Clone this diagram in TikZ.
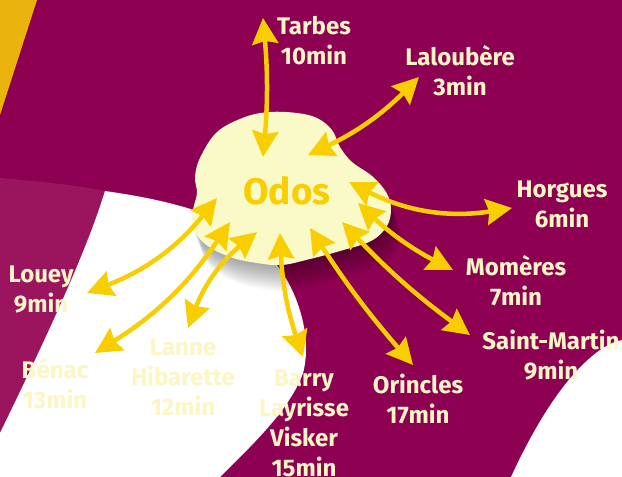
\documentclass[tikz,border=0pt]{standalone}
\usepackage{fontspec}
\setmainfont{Fira Sans}
\usetikzlibrary{arrows.meta}

\definecolor{plum}{HTML}{8E0052}
\definecolor{plumlight}{HTML}{9A155E}
\definecolor{mustard}{HTML}{EAB40C}
\definecolor{blobcream}{HTML}{FAF9C8}
\definecolor{arrowgold}{HTML}{F9CE00}
\definecolor{towncream}{HTML}{FBF6C4}

\begin{document}
\begin{tikzpicture}[x=1pt,y=-1pt,
  town/.style={font=\bfseries\fontsize{24}{30}\selectfont, text=towncream, align=center, inner sep=0pt},
  link/.style={arrowgold, line width=4.5pt,
    {Stealth[length=26pt,width=26pt,inset=3pt]}-{Stealth[length=26pt,width=26pt,inset=3pt]}},
  odosblob/.pic={\fill[pic actions] plot[smooth cycle,tension=0.6] coordinates {
    (297,113) (317,118) (332,130) (340,147) (352,162) (372,176) (386,192) (391,208)
    (387,226) (371,241) (340,251) (310,259) (282,265) (257,263) (230,257) (205,244)
    (193,227) (193,210) (197,193) (195,177) (200,158) (217,132) (245,117) (270,112)};}
]
\useasboundingbox (0,0) rectangle (622,477);

% background
\fill[plum] (0,0) rectangle (622,477);
\fill[mustard] (0,0) -- (37,0) -- (0,115) -- cycle;
\fill[plumlight] (0,178) .. controls (40,181) and (80,186) .. (105,191)
  .. controls (90,240) and (60,310) .. (0,433) -- cycle;
\fill[white] (105,191) .. controls (140,196) and (170,202) .. (200,212) -- (270,255)
  -- (277,265) .. controls (300,295) and (312,340) .. (303,373)
  .. controls (290,410) and (250,447) .. (220,477) -- (0,477) -- (0,433)
  .. controls (60,310) and (90,240) .. (105,191) -- cycle;
\fill[white] (511,477) .. controls (535,425) and (565,375) .. (600,350)
  .. controls (608,345) and (615,341) .. (622,340) -- (622,477) -- cycle;

% blob with soft shadow
\foreach \k in {1,...,12}
  \pic[fill=black, opacity=0.03] at (0.8*\k,2.2*\k) {odosblob};
\pic[fill=blobcream] at (0,0) {odosblob};
\node (odos) at (287,191) {\bfseries\fontsize{37}{40}\selectfont\color{arrowgold}Odos};

% towns
\node[town] (tarbes) at (314,41) {Tarbes\\10min};
\node[town] (laloubere) at (460,71) {Laloubère\\3min};
\node[town] (horgues) at (562,204) {Horgues\\6min};
\node[town] (flomeres) at (516,281) {Momères\\7min};
\node[town] (stmartin) at (551,355) {Saint-Martin\\9min};
\node[town] (orincles) at (418,399) {Orincles\\17min};
\node[town] (barry) at (304,423) {Barry\\Layrisse\\Visker\\15min};
\node[town] (lanne) at (183,377) {Lanne\\Hibarette\\12min};
\node[town] (benac) at (55,384) {Bénac\\13min};
\node[town] (louey) at (41,290) {Louey\\9min};

% arrow ends
\coordinate (tarbesIn) at (263,157);     \coordinate (tarbesOut) at (263,18);
\coordinate (laloubereIn) at (308,155);  \coordinate (laloubereOut) at (419,77);
\coordinate (horguesIn) at (349,182);    \coordinate (horguesOut) at (512,208);
\coordinate (flomeresIn) at (358,203);   \coordinate (flomeresOut) at (453,270);
\coordinate (stmartinIn) at (342,222);   \coordinate (stmartinOut) at (470,335);
\coordinate (orinclesIn) at (310,228);   \coordinate (orinclesOut) at (413,365);
\coordinate (barryIn) at (280,233);      \coordinate (barryOut) at (303,357);
\coordinate (lanneIn) at (257,232);      \coordinate (lanneOut) at (188,328);
\coordinate (benacIn) at (230,222);      \coordinate (benacOut) at (95,353);
\coordinate (loueyIn) at (217,198);      \coordinate (loueyOut) at (87,293);

\draw[link] (tarbesIn) to[bend right=5] (tarbesOut);
\draw[link] (laloubereIn) to[bend right=10] (laloubereOut);
\draw[link] (horguesIn) to[bend right=18] (horguesOut);
\draw[link] (flomeresIn) to[bend right=8] (flomeresOut);
\draw[link] (stmartinIn) to[bend right=5] (stmartinOut);
\draw[link] (orinclesIn) to[bend right=4] (orinclesOut);
\draw[link] (barryIn) to[bend right=8] (barryOut);
\draw[link] (lanneIn) to[bend right=15] (lanneOut);
\draw[link] (benacIn) to[bend left=12] (benacOut);
\draw[link] (loueyIn) to[bend left=15] (loueyOut);
\end{tikzpicture}
\end{document}
